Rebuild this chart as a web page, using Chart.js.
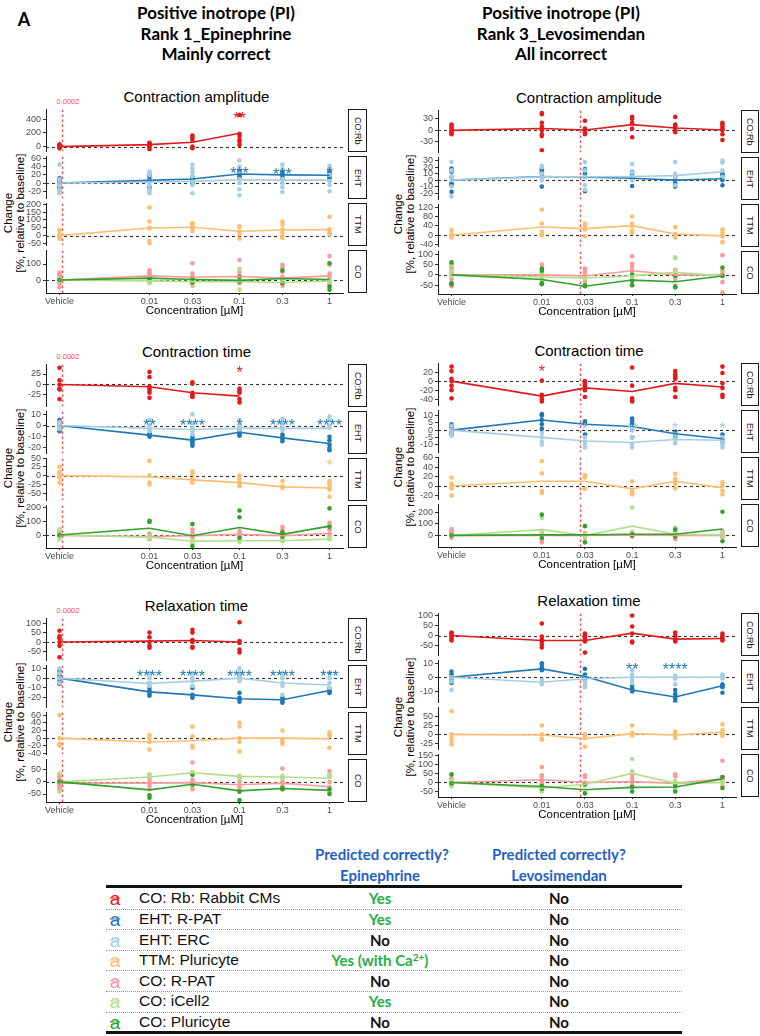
<!DOCTYPE html>
<html>
<head>
<meta charset="utf-8">
<script src="https://cdn.jsdelivr.net/npm/chart.js@4.4.1/dist/chart.umd.min.js"></script>
<style>
  body { margin: 0; background: #fff; }
  #fig { position: relative; width: 760px; height: 1036px; overflow: hidden; font-family: 'Liberation Sans', Arial, sans-serif; color: #000; }
  .txt { position: absolute; white-space: nowrap; transform: translate(-50%, -50%); line-height: 1; }
  .txt sup { font-size: 10px; line-height: 0; vertical-align: 5px; }
  .head { font-family: Lato, 'Noto Sans', sans-serif; font-weight: 700; }
  .strip { position: absolute; box-sizing: border-box; border: 1.4px solid #1a1a1a; background: #fff; writing-mode: vertical-rl; display: flex; align-items: center; justify-content: center; font-size: 9px; color: #1a1a1a; }
  .ytitle { position: absolute; white-space: nowrap; text-align: center; font-size: 11.5px; line-height: 12px; transform: translate(-50%, -50%) rotate(-90deg); }
  canvas { position: absolute; }
</style>
</head>
<body>
<div id="fig"></div>
<script>
// concentrations, vehicle is put one decade below 0.01
const conc = [0.001, 0.01, 0.03, 0.1, 0.3, 1];
const concLabels = ['Vehicle', '0.01', '0.03', '0.1', '0.3', '1'];
const facetNames = ['CO:Rb', 'EHT', 'TTM', 'CO'];
const seriesNames = ['CO: Rb: Rabbit CMs', 'EHT: R-PAT', 'EHT: ERC', 'TTM: Pluricyte', 'CO: R-PAT', 'CO: iCell2', 'CO: Pluricyte'];
const seriesColors = ['#e31a1c', '#1f78b4', '#a6cee3', '#fdbf6f', '#fb9a99', '#b2df8a', '#33a02c'];
const seriesFacet = [0, 1, 1, 2, 3, 3, 3];

const epiVline = 0.00106;
const epiVlineLabel = '0.0002';
const levoVline = 0.0265;

// Epinephrine - contraction amplitude
const epiAmpMeans = [
  [0, 29, 63, 193, null, null],
  [0, 6.5, 10, 22, 20, 19],
  [0, 2, 4, 8, 7, 7],
  [0, 49, 53, 28, 36, 38],
  [0, 26, 17, 22, 12, 26],
  [0, -5, -10, -10, -15, -5],
  [0, 12, 3, -2, 10, 3]
];
const epiAmpPoints = [
  [[-25, -10, 0, 10, 20, 35], [-40, -10, 10, 25, 40, 55], [160, 135, 96, 0, -24], [460, 185, 155, 100, 70, 25], [], []],
  [[-15, -10, -5, 0, 5, 10, 12], [20, 18, 10, 5, -10], [15, 10, 5, 0], [30, 25, 20, 15, 12], [28, 22, 18, 12], [30, 25, 20, 15, 10]],
  [[45, 10, 0, -5, -15, -20, -25], [28, 25, 20, 5, -5, -15, -20, -25], [45, 35, 25, 15, 5, -5, -25], [55, 40, 25, 10, 0, -15, -30], [45, 35, 10, 0, -10, -22], [42, 35, 20, 5, -5, -20]],
  [[35, 10, 0, -10, -20], [180, 90, 50, 45, -35, -50], [80, 70, 55, 50, 30], [60, 55, 25, 10, -20], [90, 70, 40, 20, 0, -15], [120, 40, 20, 10, 5]],
  [[45, 35, 20, 10, 0, -10, -20, -45], [60, 50, 40, 30, 20, 10, 0, -15], [105, 40, 20, 10, 0, -20, -35], [125, 50, 30, 20, 0, -10, -20], [95, 80, 50, 20, 0, -20, -35], [150, 95, 40, 20, 0, -10, -30]],
  [[5, -5], [-20, 0, 10], [-25, 5], [70, -60, 0], [-5, -20, 60], [0, -10]],
  [[0], [15, 10], [-15, 10], [-10, 20], [60, -20], [105, -40, -60]]
];
const epiAmpRanges = [[-72, 540], [-38, 65], [-64, 206], [-81, 185]];
const epiAmpTicks = [[0, 200, 400], [-20, 0, 20, 40, 60], [-50, 0, 50, 100, 150, 200], [0, 100]];
const epiAmpStars = [[0, 3, 465, '**', 0], [1, 3, 31, '***', 1], [1, 4, 30, '***', 1], [1, 5, 31, '*', 1]];

// Levosimendan - contraction amplitude
const levoAmpMeans = [
  [0, 5, 1, 15, 6, 1],
  [0, 5.6, 4.5, 3, 0, 2],
  [0, 5, 5, 5.5, 7, 13],
  [0, 35, 28, 41, 5, -3],
  [0, 0, -5, 20, 0, 0],
  [0, -10, -15, -5, 12, -5],
  [0, -22, -55, -25, -33, -5]
];
const levoAmpPoints = [
  [[15, 10, 5, 0, -5, -10], [45, 42, 20, 10, 5, 0, -10, -15, -52], [25, 5, 0, -5, -10], [35, 30, 20, 5, -18], [35, 15, 10, 5, 0, -5], [20, 15, 10, 5, 0, -10, -25]],
  [[18, 13, 5, -5, -8, -18], [18, 15, 12, 10, -10], [17, 15, 10, 5, -17], [13, 10, 5, 0, -9], [5, 0, -5, -10], [10, 8, 5, 0, -8]],
  [[28, 15, 5, 0, -10, -25], [22, 20, 10, 5, 0], [28, 15, 5, -8, -15], [25, 12, 5, 0], [28, 10, 5, -8], [30, 27, 15, 5]],
  [[22, 5, 0, -5, -10], [110, 50, 15, 8, 0], [50, 45, 30, 25, -5], [80, 50, 40, 20, 10], [35, 5, 0, -10], [25, 10, 0, -5, -30]],
  [[55, 40, 30, 20, 10, 0, -20, -40, -55], [50, 30, 10, 0, -20, -40], [30, 20, 10, 0, -10, -20, -30, -50], [90, 55, 45, 30, 15, 0, -20], [25, 15, 5, 0, -10, -20], [95, 20, 5, 0, -35, -85]],
  [[50, 20, -5], [10, -10, -30], [-20, -15], [5, -10, -50], [85, 80, 15, -10], [-5]],
  [[60, -40, -45], [30, 20, -40, -45], [-50, -55], [0, -30, -50], [-5, -55, -60], [35, -5]]
];
const levoAmpRanges = [[-58, 52], [-30, 35], [-49, 132], [-92, 113]];
const levoAmpTicks = [[-30, 0, 30], [-20, -10, 0, 10, 20, 30], [-40, 0, 40, 80, 120], [-50, 0, 50, 100]];
const levoAmpStars = [];

// Epinephrine - contraction time
const epiTimeMeans = [
  [0, -5.5, -20, -28, null, null],
  [0, -8.5, -13, -6, -11, -16],
  [0, -2.5, -3.5, -2.5, -2.5, -2.5],
  [0, -3, -12, -20, -32, -35],
  [-3, -12, -5, 5, -5, 12],
  [0, -15, -45, -42, -42, -30],
  [0, 50, -5, 55, 5, 65]
];
const epiTimePoints = [
  [[40, 10, 0, -10, -12, -35], [30, 18, -5, -10, -15, -20, -32], [5, 2, -20, -25, -28, -30], [-10, -15, -20, -35, -43], [], []],
  [[5, 3, 0, -3, -5], [-7, -8, -9, -10], [-10, -12, -14, -16, -18], [-3, -4, -6, -8, -9], [-8, -10, -12, -14], [-10, -13, -17, -20, -22]],
  [[3, 0, -3], [5, 0, -3, -5], [10, 2, -2, -5, -8], [5, 0, -2, -4], [6, 2, -2, -4], [8, 5, 0, -2]],
  [[25, 10, 5, 0, -5, -20], [42, 0, -20, -25], [12, 5, -10, -15, -20], [0, -10, -20, -25, -30], [-15, -30, -35], [-15, -20, -25, -35, -40, -60]],
  [[40, 20, 0, -10, -20], [10, 0, -10, -20, -30], [40, 20, 0, -10, -20], [30, 10, 0, -10], [60, 40, 20, 0, -20], [90, 70, 40, 10, -10]],
  [[40, -30], [-10, -20], [-40, -60], [-40, -50], [-35, -45], [-20, -30]],
  [[0], [105, 95], [80, -80], [180, 130, -20], [20, -10], [195, 60]]
];
const epiTimeRanges = [[-53, 48], [-25, 12.6], [-71, 49], [-95, 217]];
const epiTimeTicks = [[-25, 0, 25], [-20, -10, 0, 10], [-50, -25, 0, 25, 50], [0, 100, 200]];
const epiTimeStars = [[0, 3, 38, '*', 0], [1, 1, 3.5, '**', 1], [1, 2, 3.5, '****', 1], [1, 3, 3.5, '*', 1], [1, 4, 3.5, '****', 1], [1, 5, 3.5, '****', 1], [2, 5, 38, '*', 3]];

// Levosimendan - contraction time
const levoTimeMeans = [
  [0, -33, -15, -23, -5, -13],
  [0, 7, 4, 2.5, -2.5, -6],
  [0, -5, -7.5, -8.5, -6.5, -7],
  [0, 10, 10, -6, 10, -4],
  [0, 0, 0, 5, 0, 0],
  [0, 50, 0, 80, 10, 5],
  [0, 5, 5, 10, 10, 55]
];
const levoTimePoints = [
  [[32, 22, 5, 0, -10, -20, -38], [1, -30, -35, -40, -45], [0, -5, -10, -15, -20, -35], [30, -10, -38, -42, -45], [22, 15, 10, 5, -15, -20, -35], [32, 18, -5, -15, -30, -35]],
  [[4, 3, 2, -1, -3], [11, 10, 7, 4, 1], [6, 5, 4, -3], [8, 6, 4, 0, -5], [-1, -3, -5], [-3, -6, -8]],
  [[3, 0, -2, -4], [-2, -5, -8, -10], [-5, -8, -10, -12], [0, -5, -10, -12], [-3, -6, -9], [-5, -8, -10, -12]],
  [[18, 5, 0, -5, -20], [53, 27, -10, -15], [23, 20, 18, -6], [10, -10, -15, -18], [26, 15, 10, 5, -5], [8, 0, -10, -18]],
  [[55, 40, 30, 20, 10, 0, -20], [40, 20, 0, -20, -40, -60], [20, 0, -20], [30, 20, 10, 0, -10], [40, 20, 0, -20, -30], [40, 20, 10, 0, -15]],
  [[0], [150, 160, 20], [10, -10], [240, 30], [65, 20], [20, 0]],
  [[0], [180, -20], [80, -60], [10, 0], [50, -10], [205, -50]]
];
const levoTimeRanges = [[-54, 39], [-15.5, 13.6], [-29, 61], [-100, 268]];
const levoTimeTicks = [[-40, -20, 0, 20], [-10, -5, 0, 5, 10], [-20, 0, 20, 40, 60], [0, 100, 200]];
const levoTimeStars = [[0, 1, 28, '*', 0], [1, 2, 3, '*', 2], [1, 3, 3, '**', 2], [1, 4, 3.5, '*', 2], [1, 5, 3.5, '*', 2]];

// Epinephrine - relaxation time
const epiRelaxMeans = [
  [0, 5, 8, 0, null, null],
  [0, -14, -17, -21, -22, -12.5],
  [0, -5.5, -3, 0, -5, -7],
  [0, -10, -7, 0, 0, -2],
  [-5, -5, -3, -12, -5, -20],
  [0, 20, 38, 23, 20, 15],
  [0, -33, -10, -37, -27, -35]
];
const epiRelaxPoints = [
  [[60, 30, 20, 0, -20, -80], [50, 25, 0, -20, -30], [65, 50, 10, 0, -25, -30], [105, 5, -5, -40, -55], [], []],
  [[7, 3, 0, -3, -6], [-5, -10, -13, -16, -18], [-10, -17, -19, -20], [-15, -20, -22, -24], [-20, -22, -24, -25], [-10, -12, -14, -15]],
  [[10, 5, 0, -5], [5, 0, -5, -8], [5, 0, -3, -8], [10, 5, 2, 0, -3], [5, 0, -5, -8, -17], [5, 0, -5, -10]],
  [[60, 0, -15, -20], [8, 0, -10, -30], [30, 5, -20, -25], [40, 30, 0, -10, -35], [20, -5, -10, -15], [15, 10, 5, -25]],
  [[30, 20, 10, 0, -10, -20, -30], [30, 15, 0, -15, -30], [80, 40, 10, 0, -15, -30], [20, 0, -20, -30], [55, 20, 0, -15, -30], [45, 30, 0, -20, -45]],
  [[35, -40], [30, 20], [40, 35], [25, 15], [25, 15], [30, 20]],
  [[0], [-55, -65], [30, -10], [-40, -75], [-25, -30], [-30, -50]]
];
const epiRelaxRanges = [[-98, 125], [-30, 13], [-43, 67], [-83, 93]];
const epiRelaxTicks = [[-50, 0, 50, 100], [-20, -10, 0, 10], [-40, -20, 0, 20, 40, 60], [-50, 0, 50]];
const epiRelaxStars = [[1, 1, 5, '****', 1], [1, 2, 5, '****', 1], [1, 3, 5, '****', 1], [1, 4, 5, '****', 1], [1, 5, 5, '***', 1]];

// Levosimendan - relaxation time
const levoRelaxMeans = [
  [0, -25, -25, 12, -18, -15],
  [0, 6, 0.5, -9, -14, -6],
  [0, -3.5, -1, 0, 0, 0],
  [0, -2, -12, 2, -2, 6],
  [0, 15, 0, 5, -5, 20],
  [0, -30, -10, 50, -5, 0],
  [0, -22, -40, -27, -25, 20]
];
const levoRelaxPoints = [
  [[15, 10, 0, -5, -15, -25], [60, -5, -20, -30, -45, -60], [10, 0, -10, -20, -30, -85], [100, 45, 10, -30, -35], [15, 0, -15, -25, -30], [10, 0, -10, -20, -25]],
  [[4, 2, 0, -2, -4], [10, 9, 7, 6, 5], [6, 2, 0, -2], [-6, -8, -9, -10], [-9, -12, -15, -17], [-5, -6, -7, -11]],
  [[0, -3, -9], [-2, -3, -4, -5], [0, -3, -5, -7], [5, 2, 0, -2, -4], [1, 0, -1, -5], [2, 1, 0, -1]],
  [[65, 0, -10, -20, -28], [25, 0, -12, -15], [0, -5, -10, -35], [25, 5, 0, -3], [8, 0, -5, -10], [28, 12, 5, 0, -5]],
  [[25, 15, 5, 0, -10, -20], [85, 40, 30, 10, 0, -10, -20], [40, 30, 0, -10], [60, 40, 20, 0, -15], [45, 35, 0, -10], [120, 30, 20, 10, -20]],
  [[10, -20], [-30, -50], [-10, -20], [130, 60], [10, -30], [20, 0]],
  [[45, -5], [-20, -35], [-10, -60], [-25, -50], [-20, -50], [30, -30]]
];
const levoRelaxRanges = [[-100, 110], [-18, 12], [-43, 76], [-80, 155]];
const levoRelaxTicks = [[-50, 0, 50, 100], [-10, 0, 10], [-25, 0, 25, 50], [-50, 0, 50, 100, 150]];
const levoRelaxStars = [[1, 3, 8, '**', 1], [1, 4, 8, '****', 1]];

// table at the bottom
const tableRows = seriesNames;
const epiVerdict = ['Yes', 'Yes', 'No', 'Yes (with Ca<sup>2+</sup>)', 'No', 'Yes', 'No'];
const levoVerdict = ['No', 'No', 'No', 'No', 'No', 'No', 'No'];

const headLeft = ['Positive inotrope (PI)', 'Rank 1_Epinephrine', 'Mainly correct'];
const headRight = ['Positive inotrope (PI)', 'Rank 3_Levosimendan', 'All incorrect'];

// layout
const FACET_H = 43, FACET_STEP = 47, PAD = 7, XAXIS_H = 26;
const cols = [
  { canvasLeft: 20, plotLeft: 46, plotRight: 347, stripLeft: 348, stripW: 19, yTitleX: 14, headX: 216 },
  { canvasLeft: 412, plotLeft: 438, plotRight: 740, stripLeft: 741, stripW: 18, yTitleX: 404, headX: 561 }
];

const panels = [
  { col: 0, top: 109, title: 'Contraction amplitude', means: epiAmpMeans, points: epiAmpPoints, ranges: epiAmpRanges, ticks: epiAmpTicks, stars: epiAmpStars, vline: epiVline, vlabel: epiVlineLabel },
  { col: 1, top: 110, title: 'Contraction amplitude', means: levoAmpMeans, points: levoAmpPoints, ranges: levoAmpRanges, ticks: levoAmpTicks, stars: levoAmpStars, vline: levoVline },
  { col: 0, top: 364, title: 'Contraction time', means: epiTimeMeans, points: epiTimePoints, ranges: epiTimeRanges, ticks: epiTimeTicks, stars: epiTimeStars, vline: epiVline, vlabel: epiVlineLabel },
  { col: 1, top: 363, title: 'Contraction time', means: levoTimeMeans, points: levoTimePoints, ranges: levoTimeRanges, ticks: levoTimeTicks, stars: levoTimeStars, vline: levoVline },
  { col: 0, top: 618, title: 'Relaxation time', means: epiRelaxMeans, points: epiRelaxPoints, ranges: epiRelaxRanges, ticks: epiRelaxTicks, stars: epiRelaxStars, vline: epiVline, vlabel: epiVlineLabel },
  { col: 1, top: 613, title: 'Relaxation time', means: levoRelaxMeans, points: levoRelaxPoints, ranges: levoRelaxRanges, ticks: levoRelaxTicks, stars: levoRelaxStars, vline: levoVline }
];

const fig = document.getElementById('fig');
const axisFont = "'Liberation Sans', Arial, sans-serif";

function addText(html, x, y, css, cls) {
  const el = document.createElement('div');
  el.className = cls || 'txt';
  el.innerHTML = html;
  el.style.left = x + 'px';
  el.style.top = y + 'px';
  if (css) el.style.cssText += css;
  fig.appendChild(el);
  return el;
}

// dashed zero line, red reference line and significance stars
const decoPlugin = {
  id: 'deco',
  beforeDatasetsDraw(chart, args, opts) {
    const { ctx, chartArea: a, scales: { x, y } } = chart;
    ctx.save();
    ctx.beginPath();
    ctx.rect(a.left, a.top, a.width, a.height);
    ctx.clip();
    const y0 = Math.round(y.getPixelForValue(0)) + 0.5;
    ctx.setLineDash([3, 3]);
    ctx.lineWidth = 1.1;
    ctx.strokeStyle = '#333';
    ctx.beginPath();
    ctx.moveTo(a.left, y0);
    ctx.lineTo(a.right, y0);
    ctx.stroke();
    const xv = Math.round(x.getPixelForValue(opts.vline)) + 0.5;
    ctx.setLineDash([2.5, 2.5]);
    ctx.lineWidth = 1.4;
    ctx.strokeStyle = '#ff4d4d';
    ctx.beginPath();
    ctx.moveTo(xv, a.top);
    ctx.lineTo(xv, a.bottom);
    ctx.stroke();
    ctx.restore();
  },
  afterDatasetsDraw(chart, args, opts) {
    const { ctx, scales: { x, y } } = chart;
    ctx.save();
    ctx.font = `16px ${axisFont}`;
    ctx.textAlign = 'center';
    ctx.textBaseline = 'alphabetic';
    opts.stars.forEach(s => {
      ctx.fillStyle = seriesColors[s.color];
      ctx.fillText(s.text, x.getPixelForValue(s.x), y.getPixelForValue(s.y) + 9);
    });
    ctx.restore();
  }
};

function createFacet(panel, k) {
  const col = cols[panel.col];
  const top = panel.top + k * FACET_STEP;
  const isBottom = k === 3;
  const w = col.plotRight - col.canvasLeft;
  const h = PAD + FACET_H + (isBottom ? XAXIS_H : PAD);

  const canvas = document.createElement('canvas');
  canvas.width = w;
  canvas.height = h;
  canvas.style.left = col.canvasLeft + 'px';
  canvas.style.top = (top - PAD) + 'px';
  canvas.style.width = w + 'px';
  canvas.style.height = h + 'px';
  fig.appendChild(canvas);

  const members = seriesFacet.map((f, i) => f === k ? i : -1).filter(i => i >= 0).reverse();
  const datasets = [];
  members.forEach(s => {
    datasets.push({
      data: conc.map((c, i) => ({ x: c, y: panel.means[s][i] })).filter(p => p.y !== null),
      showLine: true,
      borderColor: seriesColors[s],
      borderWidth: 1.6,
      pointRadius: 0,
      fill: false
    });
  });
  members.forEach(s => {
    datasets.push({
      data: panel.points[s].flatMap((vals, i) => vals.map(v => ({ x: conc[i], y: v }))),
      showLine: false,
      backgroundColor: seriesColors[s],
      borderWidth: 0,
      pointRadius: 2.3
    });
  });

  const stars = panel.stars
    .filter(s => s[0] === k)
    .map(s => ({ x: conc[s[1]], y: s[2], text: s[3], color: s[4] }));

  const tickGrid = { display: true, drawOnChartArea: false, drawTicks: true, color: '#333', lineWidth: 1 };

  new Chart(canvas, {
    type: 'scatter',
    data: { datasets },
    options: {
      responsive: false,
      animation: false,
      devicePixelRatio: 1,
      layout: { padding: { top: PAD, bottom: isBottom ? 0 : PAD, left: 0, right: 0 } },
      plugins: {
        legend: { display: false },
        tooltip: { enabled: false },
        deco: { vline: panel.vline, stars }
      },
      scales: {
        x: {
          type: 'logarithmic',
          min: Math.pow(10, -3.15),
          max: Math.pow(10, 0.15),
          display: isBottom,
          afterBuildTicks: s => { s.ticks = conc.map(v => ({ value: v })); },
          afterFit: s => { s.height = isBottom ? XAXIS_H : 0; },
          ticks: {
            autoSkip: false, maxRotation: 0, padding: 1,
            font: { size: 9, family: axisFont }, color: '#4d4d4d',
            callback: (v, i) => concLabels[i]
          },
          grid: Object.assign({ tickLength: 2 }, tickGrid),
          border: { display: true, color: '#1a1a1a', width: 1 },
          title: {
            display: true, text: 'Concentration [µM]', color: '#000',
            font: { size: 11.5, family: axisFont }, padding: { top: 0, bottom: 1 }
          }
        },
        y: {
          type: 'linear',
          min: panel.ranges[k][0],
          max: panel.ranges[k][1],
          afterBuildTicks: s => { s.ticks = panel.ticks[k].map(v => ({ value: v })); },
          afterFit: s => { s.width = 26; },
          ticks: { autoSkip: false, padding: 2, font: { size: 9, family: axisFont }, color: '#4d4d4d' },
          grid: Object.assign({ tickLength: 3 }, tickGrid),
          border: { display: true, color: '#1a1a1a', width: 1 }
        }
      }
    },
    plugins: [decoPlugin]
  });

  // facet strip on the right
  const strip = document.createElement('div');
  strip.className = 'strip';
  strip.textContent = facetNames[k];
  strip.style.left = col.stripLeft + 'px';
  strip.style.top = top + 'px';
  strip.style.width = col.stripW + 'px';
  strip.style.height = FACET_H + 'px';
  fig.appendChild(strip);
}

function createPanel(panel) {
  const col = cols[panel.col];
  const midX = (col.plotLeft + col.plotRight) / 2;
  addText(panel.title, midX, panel.top - 13.5, 'font-size:15px;');
  if (panel.vlabel) {
    addText(panel.vlabel, col.plotLeft + 22, panel.top - 7, 'font-size:7.5px;color:#ff4d4d;');
  }
  addText('Change<br>[%, relative to baseline]', col.yTitleX, panel.top + 104, '', 'ytitle');
  facetNames.forEach((name, k) => createFacet(panel, k));
}

// header
addText('A', 24, 19, 'font-size:18px;', 'txt head');
headLeft.forEach((t, i) => addText(t, cols[0].headX, 12 + i * 20.5, 'font-size:17px;', 'txt head'));
headRight.forEach((t, i) => addText(t, cols[1].headX, 12 + i * 20.5, 'font-size:17px;', 'txt head'));

panels.forEach(createPanel);

// summary table
function createTable() {
  const left = 106, right = 682, rowTop = 888, rowH = 20.6;
  const colEpi = 380, colLevo = 559;
  const blue = '#1f5fc8';
  addText('Predicted correctly?', 382, 854, `font-size:15px;color:${blue};`, 'txt head');
  addText('Predicted correctly?', colLevo, 854, `font-size:15px;color:${blue};`, 'txt head');
  addText('Epinephrine', colEpi, 875, `font-size:15px;color:${blue};`, 'txt head');
  addText('Levosimendan', colLevo, 875, `font-size:15px;color:${blue};`, 'txt head');

  const rule = (y, css) => {
    const el = document.createElement('div');
    el.style.cssText = `position:absolute;left:${left}px;width:${right - left}px;top:${y}px;${css}`;
    fig.appendChild(el);
  };
  rule(rowTop - 3, 'height:3px;background:#111;');
  rule(rowTop + rowH * tableRows.length - 1, 'height:3px;background:#111;');

  tableRows.forEach((name, i) => {
    const cy = rowTop + rowH * i + rowH / 2;
    if (i < tableRows.length - 1) rule(rowTop + rowH * (i + 1), 'border-top:1px dotted #9a9a9a;');
    addText('a', 115, cy, `font-size:19px;color:${seriesColors[i]};text-decoration:line-through;`);
    const lab = addText(name, 139, cy, 'font-size:15.5px;color:#111;');
    lab.style.transform = 'translate(0,-50%)';
    const e = epiVerdict[i];
    addText(e, colEpi, cy, `font-size:15px;color:${e.startsWith('Yes') ? '#1fae45' : '#111'};`, 'txt head');
    addText(levoVerdict[i], colLevo, cy, 'font-size:15px;color:#111;', 'txt head');
  });
}
createTable();
</script>
</body>
</html>
